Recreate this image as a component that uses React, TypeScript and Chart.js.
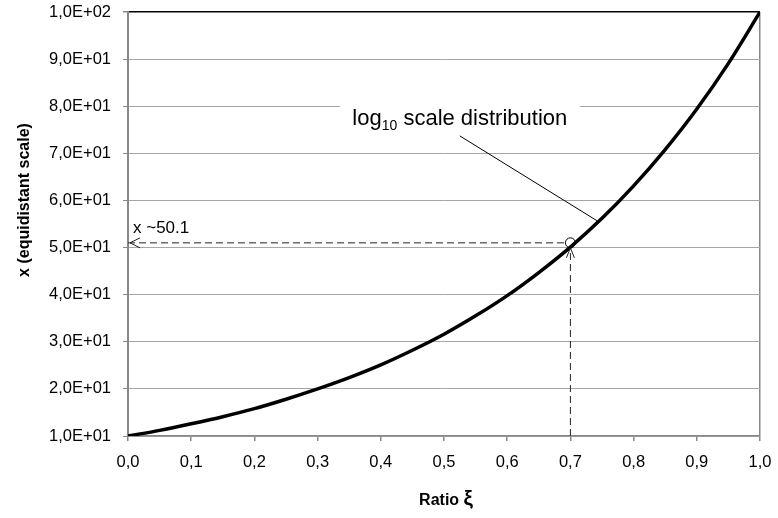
import React, { useEffect, useRef } from "react";
import { Chart, registerables } from "chart.js";

Chart.register(...registerables);

// Ratio ξ (x axis) and x on an equidistant scale (y axis)
const ratioValues = [0, 0.05, 0.1, 0.15, 0.2, 0.25, 0.3, 0.35, 0.4, 0.45, 0.5, 0.55, 0.6, 0.65, 0.7, 0.75, 0.8, 0.85, 0.9, 0.95, 1.0];
const xValues = [10.0, 11.2, 12.6, 14.1, 15.8, 17.8, 20.0, 22.4, 25.1, 28.2, 31.6, 35.5, 39.8, 44.7, 50.1, 56.2, 63.1, 70.8, 79.4, 89.1, 100.0];

// marked point (ξ = 0.7, x ≈ 50.1)
const markRatio = [0.7];
const markX = [51.0];
const markLabel = "x ~50.1";

// leader line from the label to the curve
const leaderRatio = [0.525, 0.742];
const leaderX = [73.7, 55.7];

const curveLabelMain = "log";
const curveLabelSub = "10";
const curveLabelRest = " scale distribution";

const yTitle = "x (equidistant scale)";
const xTitleText = "Ratio ";
const xTitleSymbol = "ξ";

const FONT = "'Liberation Sans', Arial, Helvetica, sans-serif";

const fmtY = (v: number) => {
  if (v >= 100) return (v / 100).toFixed(1).replace(".", ",") + "E+02";
  return (v / 10).toFixed(1).replace(".", ",") + "E+01";
};

const zeroPad = (s: any) => {
  s.paddingTop = 0;
  s.paddingBottom = 0;
  s.paddingLeft = 0;
  s.paddingRight = 0;
};

export default function App() {
  const ref = useRef<HTMLCanvasElement | null>(null);

  useEffect(() => {
    document.body.style.margin = "0";
    const canvas = ref.current;
    if (!canvas) return;

    const annotPlugin = {
      id: "annot",
      afterDatasetsDraw(chart: any) {
        const { ctx, scales } = chart;
        const xs = scales.x;
        const ys = scales.y;
        const px = (v: number) => xs.getPixelForValue(v);
        const py = (v: number) => ys.getPixelForValue(v);
        ctx.save();

        // arrowheads
        ctx.strokeStyle = "#222";
        ctx.lineWidth = 1;
        const tipL = { x: px(0) + 2, y: py(markX[0]) };
        ctx.beginPath();
        ctx.moveTo(tipL.x + 10, tipL.y - 5);
        ctx.lineTo(tipL.x, tipL.y);
        ctx.lineTo(tipL.x + 10, tipL.y + 5);
        ctx.stroke();
        const tipU = { x: px(markRatio[0]), y: py(markX[0]) + 5 };
        ctx.beginPath();
        ctx.moveTo(tipU.x - 4, tipU.y + 10);
        ctx.lineTo(tipU.x, tipU.y);
        ctx.lineTo(tipU.x + 4, tipU.y + 10);
        ctx.stroke();

        // label box covering the gridline
        const bx0 = px(0.3354);
        const bx1 = px(0.715);
        const by = py(80);
        ctx.fillStyle = "#fff";
        ctx.fillRect(bx0, by - 3, bx1 - bx0, 6);

        // curve label
        ctx.fillStyle = "#000";
        ctx.textBaseline = "alphabetic";
        ctx.textAlign = "left";
        let tx = px(0.355);
        const tb = py(76.0);
        ctx.font = `22px ${FONT}`;
        ctx.fillText(curveLabelMain, tx, tb);
        tx += ctx.measureText(curveLabelMain).width;
        ctx.font = `14px ${FONT}`;
        ctx.fillText(curveLabelSub, tx, tb + 5);
        tx += ctx.measureText(curveLabelSub).width;
        ctx.font = `22px ${FONT}`;
        ctx.fillText(curveLabelRest, tx, tb);

        // mark label
        ctx.font = `17px ${FONT}`;
        ctx.fillText(markLabel, px(0) + 5, py(markX[0]) - 10);

        ctx.restore();
      },
      afterDraw(chart: any) {
        const { ctx } = chart;
        ctx.save();
        ctx.fillStyle = "#000";
        ctx.textBaseline = "alphabetic";
        ctx.textAlign = "left";
        ctx.font = `bold 16px ${FONT}`;
        const w1 = ctx.measureText(xTitleText).width;
        ctx.font = `bold 21px ${FONT}`;
        const w2 = ctx.measureText(xTitleSymbol).width;
        let x0 = 446 - (w1 + w2) / 2;
        ctx.font = `bold 16px ${FONT}`;
        ctx.fillText(xTitleText, x0, 505);
        ctx.font = `bold 21px ${FONT}`;
        ctx.fillText(xTitleSymbol, x0 + w1, 505);
        ctx.textAlign = "center";
        ctx.textBaseline = "middle";
        ctx.font = `bold 16px ${FONT}`;
        ctx.translate(25, 200);
        ctx.rotate(-Math.PI / 2);
        ctx.fillText(yTitle, 0, 0);
        ctx.restore();
      },
    };

    const chart = new Chart(canvas, {
      type: "line",
      data: {
        datasets: [
          {
            label: "curve",
            data: ratioValues.map((r, i) => ({ x: r, y: xValues[i] })),
            borderColor: "#000",
            borderWidth: 3.5,
            pointRadius: 0,
            cubicInterpolationMode: "monotone",
            fill: false,
            order: 0,
          },
          {
            label: "mark",
            data: markRatio.map((r, i) => ({ x: r, y: markX[i] })),
            showLine: false,
            pointRadius: 5,
            pointBorderWidth: 1,
            pointBorderColor: "#000",
            pointBackgroundColor: "#fff",
            order: 1,
          },
          {
            label: "hdash",
            data: [
              { x: 0, y: markX[0] },
              { x: markRatio[0], y: markX[0] },
            ],
            borderColor: "#222",
            borderWidth: 1,
            borderDash: [7, 4],
            pointRadius: 0,
            order: 2,
          },
          {
            label: "vdash",
            data: [
              { x: markRatio[0], y: 10 },
              { x: markRatio[0], y: markX[0] },
            ],
            borderColor: "#222",
            borderWidth: 1,
            borderDash: [7, 4],
            pointRadius: 0,
            order: 3,
          },
          {
            label: "leader",
            data: leaderRatio.map((r, i) => ({ x: r, y: leaderX[i] })),
            borderColor: "#000",
            borderWidth: 1,
            pointRadius: 0,
            order: 4,
          },
        ],
      },
      options: {
        animation: false,
        responsive: false,
        devicePixelRatio: 1,
        layout: { padding: { top: 12, right: 18, left: 0, bottom: 0 } },
        plugins: { legend: { display: false }, tooltip: { enabled: false } },
        scales: {
          x: {
            type: "linear",
            min: 0,
            max: 1,
            afterFit: (s: any) => {
              s.height = 82;
              zeroPad(s);
            },
            ticks: {
              stepSize: 0.1,
              color: "#000",
              padding: 12,
              font: { family: FONT, size: 16.5 },
              callback: (v: any) => Number(v).toFixed(1).replace(".", ","),
              maxRotation: 0,
              autoSkip: false,
            },
            grid: {
              color: (c: any) => (c.tick && Math.abs(c.tick.value - 1) < 1e-9 ? "#888" : "rgba(0,0,0,0)"),
              tickColor: "#888",
              tickLength: 5,
              lineWidth: 1.5,
            },
            border: { color: "#888", width: 1.5 },
          },
          y: {
            type: "linear",
            min: 10,
            max: 100,
            afterFit: (s: any) => {
              s.width = 128;
              zeroPad(s);
            },
            ticks: {
              stepSize: 10,
              color: "#000",
              padding: 12,
              font: { family: FONT, size: 16.5 },
              callback: (v: any) => fmtY(Number(v)),
            },
            grid: {
              color: (c: any) => (c.tick && c.tick.value === 100 ? "#000" : "#a6a6a6"),
              tickColor: "#888",
              tickLength: 5,
              lineWidth: (c: any) => (c.tick && c.tick.value === 100 ? 1.5 : 1),
            },
            border: { color: "#888", width: 2 },
          },
        },
      },
      plugins: [annotPlugin],
    } as any);

    return () => chart.destroy();
  }, []);

  return <canvas ref={ref} width={778} height={518} style={{ display: "block" }} />;
}
